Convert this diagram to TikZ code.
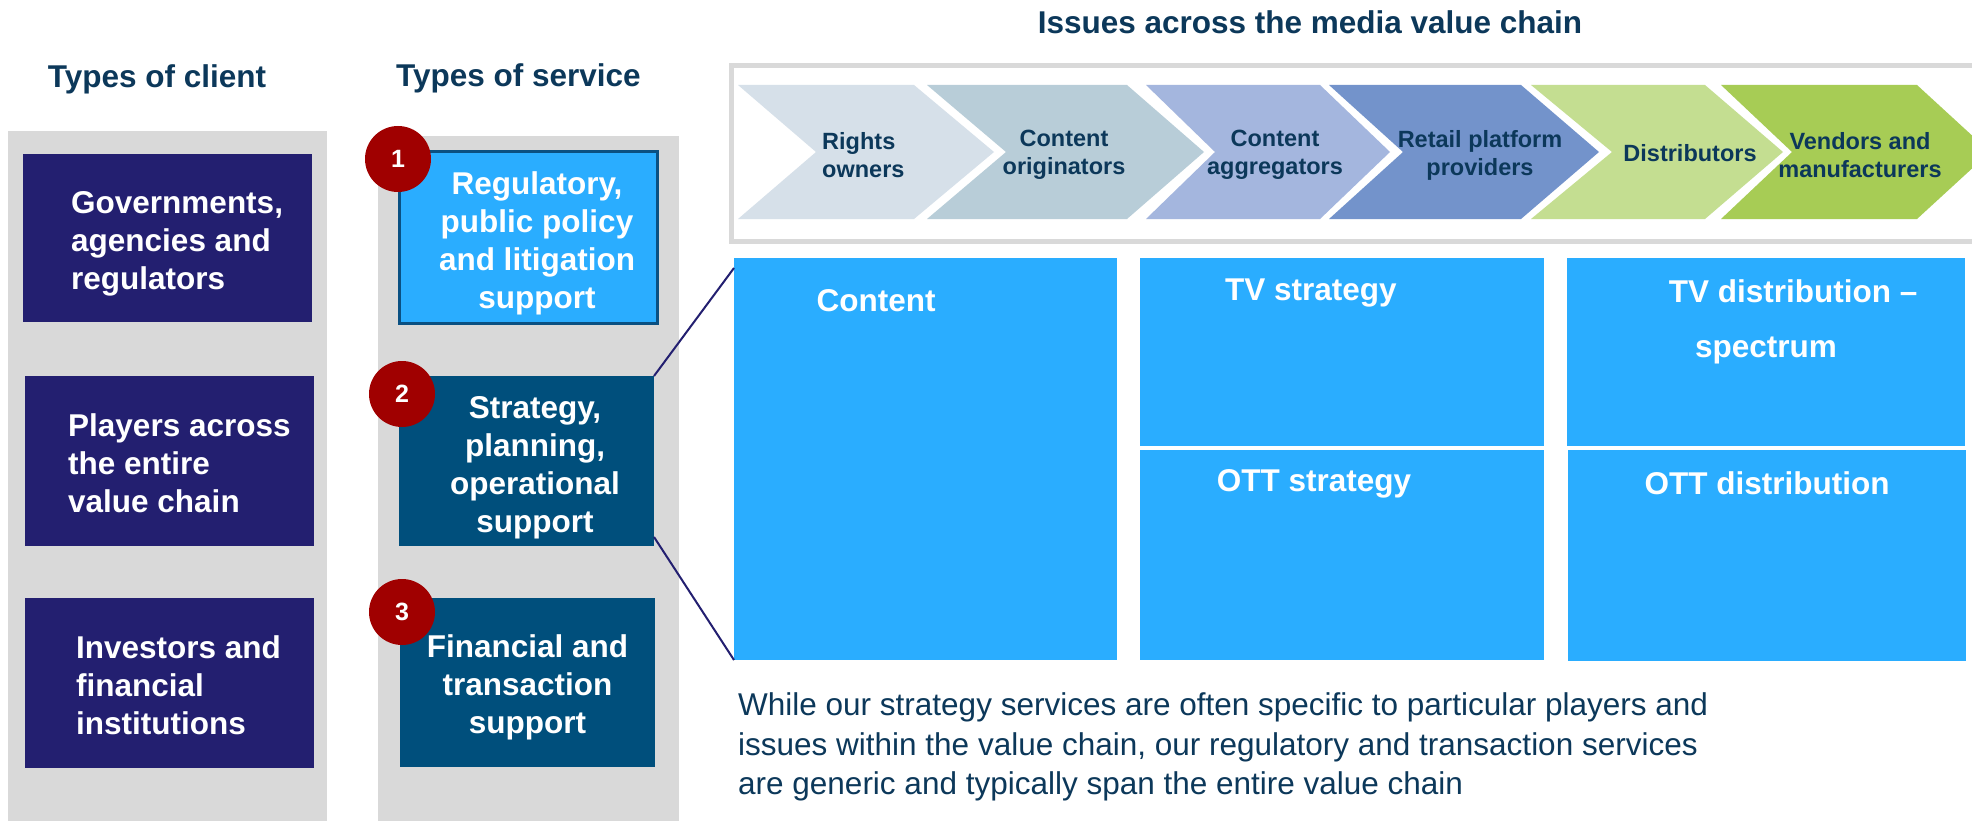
\documentclass[tikz,border=0pt]{standalone}
\usepackage{fontspec}
\setmainfont{Liberation Sans}
\definecolor{navytxt}{RGB}{12,56,90}
\definecolor{panelgray}{RGB}{217,217,217}
\definecolor{clientblue}{RGB}{35,31,112}
\definecolor{servdark}{RGB}{0,79,124}
\definecolor{skyblue}{RGB}{42,173,255}
\definecolor{servedge}{RGB}{10,80,130}
\definecolor{badgered}{RGB}{160,0,0}
\definecolor{chA}{RGB}{214,224,233}
\definecolor{chB}{RGB}{184,205,216}
\definecolor{chC}{RGB}{164,182,222}
\definecolor{chD}{RGB}{115,147,203}
\definecolor{chE}{RGB}{196,222,145}
\definecolor{chF}{RGB}{167,204,85}
\begin{document}
\begin{tikzpicture}[x=1pt,y=-1pt,
  head/.style={font=\fontsize{31.5}{38}\selectfont\bfseries, text=navytxt, inner sep=0},
  clientbox/.style={fill=clientblue, inner sep=0, outer sep=0},
  clienttxt/.style={font=\fontsize{31.5}{38}\selectfont\bfseries, text=white, align=left, inner sep=0},
  servbox/.style={inner sep=0, outer sep=0},
  servtxt/.style={text=white, align=center, inner sep=0,
    font=\fontsize{31.5}{38}\selectfont\bfseries},
  badge/.style={circle, fill=badgered, minimum size=66, inner sep=0, text=white,
    font=\fontsize{25}{30}\selectfont\bfseries},
  chevtxt/.style={font=\fontsize{23.5}{28}\selectfont\bfseries, text=navytxt, align=center, inner sep=0},
  issuebox/.style={fill=skyblue, inner sep=0, outer sep=0},
  issuetxt/.style={font=\fontsize{31.5}{38}\selectfont\bfseries, text=white, inner sep=0},
  conn/.style={draw=clientblue, line width=2}
]
\useasboundingbox (0,0) rectangle (1972,821);
\fill[white] (0,0) rectangle (1972,821);

% headings
\node[head] (hclient) at (157,79) {Types of client};
\node[head] (hservice) at (518.5,78) {Types of service};
\node[head] (htitle) at (1310,22) {Issues across the media value chain};

% grey columns
\fill[panelgray] (8,131) rectangle (327,821);
\fill[panelgray] (378,136) rectangle (679,821);

% client types
\node[clientbox, minimum width=289, minimum height=168] (c1) at (167.5,238) {};
\node[clientbox, minimum width=289, minimum height=170] (c2) at (169.5,461) {};
\node[clientbox, minimum width=289, minimum height=170] (c3) at (169.5,683) {};
\node[clienttxt, anchor=west] (c1t) at (71,244) {Governments,\\agencies and\\regulators};
\node[clienttxt, anchor=west] (c2t) at (68,463) {Players across\\the entire\\value chain};
\node[clienttxt, anchor=west] (c3t) at (76,685) {Investors and\\financial\\institutions};

% service types
\node[servbox, fill=skyblue, draw=servedge, line width=3, minimum width=258, minimum height=171] (s1) at (528,237.5) {};
\node[servbox, fill=servdark, minimum width=255, minimum height=170] (s2) at (526.5,461) {};
\node[servbox, fill=servdark, minimum width=255, minimum height=169] (s3) at (527.5,682.5) {};
\node[servtxt] (s1t) at (537,243.5) {Regulatory,\\public policy\\and litigation\\support};
\node[servtxt] (s2t) at (535,467.5) {Strategy,\\planning,\\operational\\support};
\node[servtxt] (s3t) at (527.5,687.5) {Financial and\\transaction\\support};
\node[badge] (n1) at (398,159) {1};
\node[badge] (n2) at (402,394) {2};
\node[badge] (n3) at (402,612) {3};

% value chain frame
\filldraw[draw=panelgray, fill=white, line width=5] (731.5,65.5) rectangle (1995,241.5);

% value chain chevrons
\fill[chA] (738,85) -- (914,85) -- (994,152) -- (914,219) -- (738,219) -- (816,152) -- cycle;
\fill[chB] (927,85) -- (1127,85) -- (1204,152) -- (1127,219) -- (927,219) -- (1006,152) -- cycle;
\fill[chC] (1146,85) -- (1320,85) -- (1390,152) -- (1320,219) -- (1146,219) -- (1215,152) -- cycle;
\fill[chD] (1329,85) -- (1521,85) -- (1599,152) -- (1521,219) -- (1329,219) -- (1403,152) -- cycle;
\fill[chE] (1531,85) -- (1705,85) -- (1783,152) -- (1705,219) -- (1531,219) -- (1612,152) -- cycle;
\fill[chF] (1721,85) -- (1917,85) -- (1990,152) -- (1917,219) -- (1721,219) -- (1792,152) -- cycle;
\node[chevtxt, align=left, anchor=west] (v1) at (822,155) {Rights\\owners};
\node[chevtxt] (v2) at (1064,155) {Content\\originators};
\node[chevtxt] (v3) at (1275,155) {Content\\aggregators};
\node[chevtxt] (v4) at (1480,155) {Retail platform\\providers};
\node[chevtxt] (v5) at (1690,153) {Distributors};
\node[chevtxt] (v6) at (1860,155) {Vendors and\\manufacturers};

% issue areas
\node[issuebox, minimum width=383, minimum height=402] (content) at (925.5,459) {};
\node[issuebox, minimum width=404, minimum height=188] (tvs) at (1342,352) {};
\node[issuebox, minimum width=404, minimum height=210] (otts) at (1342,555) {};
\node[issuebox, minimum width=398, minimum height=188] (tvd) at (1766,352) {};
\node[issuebox, minimum width=398, minimum height=211] (ottd) at (1767,555.5) {};
\node[issuetxt] (contentt) at (876,301) {Content};
\node[issuetxt] (tvst) at (1311,293) {TV strategy};
\node[issuetxt] (ottst) at (1314,484) {OTT strategy};
\node[issuetxt] (tvdt) at (1793,291) {TV distribution –};
\node[issuetxt] (tvdt2) at (1766,350) {spectrum};
\node[issuetxt] (ottdt) at (1767,483) {OTT distribution};

% zoom lines from the strategy service to the issue areas
\draw[conn] (s2.north east) -- ([yshift=-10pt]content.north west);
\draw[conn] ([yshift=9pt]s2.south east) -- (content.south west);

% note
\node[font=\fontsize{31.5}{39.5}\selectfont, text=navytxt, align=left, anchor=west, inner sep=0] (note) at (738,747)
  {While our strategy services are often specific to particular players and\\
   issues within the value chain, our regulatory and transaction services\\
   are generic and typically span the entire value chain};
\end{tikzpicture}
\end{document}
